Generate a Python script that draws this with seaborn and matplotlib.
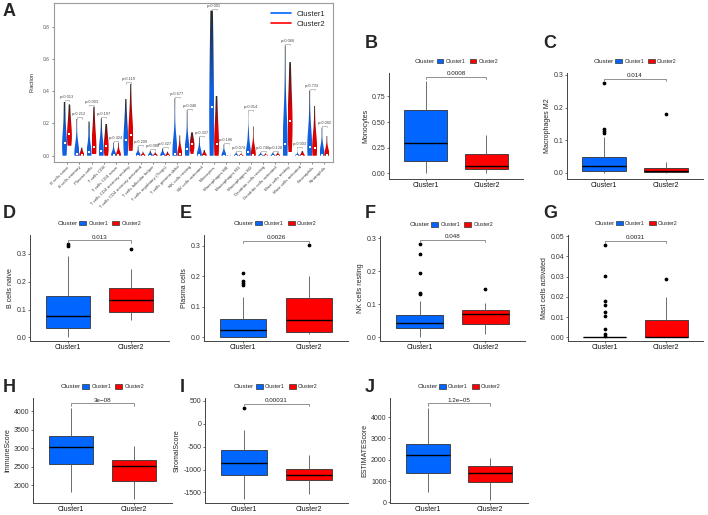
import numpy as np
import pandas as pd
import matplotlib
matplotlib.use("Agg")
import matplotlib.pyplot as plt
import seaborn as sns
from matplotlib.colors import LinearSegmentedColormap
from matplotlib.lines import Line2D
from matplotlib.patches import Patch

# ---------------- data ----------------
clusters = ["Cluster1", "Cluster2"]

# B: Monocytes
mono_c1 = [0.0, 0.06, 0.114, 0.2, 0.299, 0.45, 0.616, 0.75, 0.899]
mono_c2 = [0.0, 0.02, 0.039, 0.055, 0.071, 0.12, 0.185, 0.27, 0.37]
# C: Macrophages M2
m2_c1 = [0.0, 0.0, 0.001, 0.002, 0.003, 0.0035, 0.004, 0.007, 0.01, 0.013, 0.016, 0.019, 0.021,
         0.025, 0.029, 0.034, 0.039, 0.044, 0.049, 0.065, 0.111, 0.122, 0.128, 0.134, 0.275]
m2_c2 = [0.0, 0.0, 0.001, 0.003, 0.005, 0.009, 0.014, 0.032, 0.181]
# D: B cells naive
bn_c1 = [0.0, 0.008, 0.017, 0.025, 0.032, 0.045, 0.055, 0.066, 0.076, 0.09, 0.108, 0.128, 0.148,
         0.2, 0.293, 0.327, 0.334]
bn_c2 = [0.062, 0.08, 0.092, 0.115, 0.136, 0.155, 0.177, 0.246, 0.318]
# E: Plasma cells
pc_c1 = [0.0, 0.0, 0.0, 0.0, 0.0, 0.0005, 0.001, 0.004, 0.008, 0.012, 0.016, 0.02, 0.023,
         0.028, 0.034, 0.041, 0.048, 0.055, 0.061, 0.09, 0.131, 0.172, 0.18, 0.186, 0.212]
pc_c2 = [0.01, 0.014, 0.019, 0.035, 0.056, 0.09, 0.129, 0.2, 0.303]
# F: NK cells resting
nk_c1 = [0.0, 0.006, 0.012, 0.017, 0.021, 0.024, 0.027, 0.03, 0.033, 0.036, 0.039, 0.042, 0.044,
         0.047, 0.051, 0.055, 0.059, 0.063, 0.067, 0.11, 0.13, 0.134, 0.194, 0.252, 0.282]
nk_c2 = [0.011, 0.03, 0.042, 0.058, 0.07, 0.076, 0.082, 0.105, 0.145]
# G: Mast cells activated
mast_c1 = [0.0] * 21 + [0.0001, 0.0001, 0.0002, 0.0002, 0.0003, 0.0003, 0.0003,
                        0.0008, 0.0018, 0.0039, 0.0105, 0.0126, 0.0158, 0.0178, 0.0304, 0.0456]
mast_c2 = [0.0, 0.0, 0.0, 0.0, 0.0, 0.004, 0.0087, 0.0198, 0.0286]
# H, I, J: ESTIMATE scores
immune_c1 = [1814, 2300, 2575, 2820, 3027, 3180, 3336, 3700, 4106]
immune_c2 = [1637, 1900, 2115, 2350, 2513, 2600, 2673, 2850, 3053]
stromal_c1 = [-1651, -1350, -1129, -990, -857, -720, -579, -136, 342]
stromal_c2 = [-1543, -1380, -1237, -1170, -1115, -1050, -986, -850, -681]
estimate_c1 = [496, 950, 1395, 1800, 2233, 2500, 2744, 3500, 4450]
estimate_c2 = [124, 600, 961, 1200, 1395, 1550, 1690, 1900, 2093]

# A: all 22 CIBERSORT fractions
cells = ["B cells naive", "B cells memory", "Plasma cells", "T cells CD8", "T cells CD4 naive",
         "T cells CD4 memory resting", "T cells CD4 memory activated", "T cells follicular helper",
         "T cells regulatory (Tregs)", "T cells gamma delta", "NK cells resting", "NK cells activated",
         "Monocytes", "Macrophages M0", "Macrophages M1", "Macrophages M2", "Dendritic cells resting",
         "Dendritic cells activated", "Mast cells resting", "Mast cells activated", "Eosinophils",
         "Neutrophils"]
pvals_a = ["p=0.013", "p=0.212", "p=0.003", "p=0.197", "p=0.424", "p=0.119", "p=0.209", "p=0.080",
           "p=0.327", "p=0.677", "p=0.048", "p=0.337", "p=0.001", "p=0.186", "p=0.074", "p=0.014",
           "p=0.748", "p=0.128", "p=0.066", "p=0.003", "p=0.733", "p=0.092"]
frac_c1 = [bn_c1,
           [0, 0, 0.002, 0.005, 0.008, 0.015, 0.03, 0.06, 0.228],
           pc_c1,
           [0, 0.005, 0.012, 0.02, 0.031, 0.045, 0.07, 0.11, 0.232],
           [0, 0, 0, 0, 0.002, 0.005, 0.01, 0.02, 0.081],
           [0, 0.03, 0.05, 0.075, 0.097, 0.12, 0.16, 0.22, 0.352],
           [0, 0, 0, 0, 0, 0.002, 0.006, 0.015, 0.056],
           [0, 0, 0, 0, 0.001, 0.004, 0.008, 0.015, 0.03],
           [0, 0, 0, 0, 0.001, 0.004, 0.01, 0.02, 0.045],
           [0, 0, 0.003, 0.006, 0.01, 0.016, 0.03, 0.07, 0.356],
           nk_c1,
           [0, 0, 0, 0, 0.002, 0.006, 0.015, 0.035, 0.114],
           mono_c1,
           [0, 0, 0, 0, 0, 0.002, 0.006, 0.015, 0.07],
           [0, 0, 0, 0, 0, 0.001, 0.003, 0.008, 0.02],
           m2_c1,
           [0, 0, 0, 0, 0, 0.001, 0.003, 0.008, 0.02],
           [0, 0, 0, 0, 0, 0.001, 0.004, 0.009, 0.02],
           [0, 0.01, 0.03, 0.05, 0.072, 0.1, 0.15, 0.25, 0.683],
           mast_c1,
           [0, 0.01, 0.025, 0.04, 0.052, 0.07, 0.1, 0.16, 0.404],
           [0, 0, 0.001, 0.003, 0.005, 0.01, 0.02, 0.045, 0.174]]
frac_c2 = [bn_c2,
           [0, 0, 0.001, 0.003, 0.005, 0.01, 0.018, 0.03, 0.05],
           pc_c2,
           [0, 0.015, 0.03, 0.045, 0.06, 0.08, 0.1, 0.14, 0.197],
           [0, 0, 0, 0, 0.003, 0.006, 0.012, 0.025, 0.081],
           [0.03, 0.07, 0.09, 0.11, 0.128, 0.15, 0.19, 0.27, 0.445],
           [0, 0, 0, 0, 0, 0.001, 0.004, 0.01, 0.025],
           [0, 0, 0, 0, 0.001, 0.003, 0.006, 0.01, 0.02],
           [0, 0, 0, 0, 0, 0.002, 0.005, 0.012, 0.025],
           [0, 0, 0.002, 0.005, 0.009, 0.015, 0.028, 0.05, 0.126],
           nk_c2,
           [0, 0, 0, 0, 0.001, 0.004, 0.01, 0.02, 0.035],
           mono_c2,
           [0, 0, 0, 0, 0, 0, 0.001, 0.003, 0.006],
           [0, 0, 0, 0, 0, 0.001, 0.002, 0.005, 0.015],
           m2_c2,
           [0, 0, 0, 0, 0, 0.001, 0.002, 0.005, 0.015],
           [0, 0, 0, 0, 0, 0.001, 0.004, 0.009, 0.02],
           [0.02, 0.08, 0.13, 0.17, 0.217, 0.26, 0.32, 0.42, 0.58],
           mast_c2,
           [0, 0.01, 0.022, 0.035, 0.046, 0.065, 0.095, 0.15, 0.308],
           [0, 0, 0.001, 0.003, 0.005, 0.01, 0.02, 0.04, 0.122]]

# ---------------- style ----------------
sns.set_theme(style="ticks")
plt.rcParams["font.family"] = ["Liberation Sans", "DejaVu Sans"]
plt.rcParams["axes.unicode_minus"] = False

box_pal = {"Cluster1": "#0066FF", "Cluster2": "#FF0000"}
violin_pal = {"Cluster1": "#1160E0", "Cluster2": "#DD0000"}

W, H = 708, 515
fig = plt.figure(figsize=(W / 100, H / 100), dpi=100)


def px_axes(left, right, top, bottom):
    return fig.add_axes([left / W, 1 - bottom / H, (right - left) / W, (bottom - top) / H])


def letter(x, y, s):
    fig.text(x / W, 1 - y / H, s, fontsize=13, fontweight="bold", ha="left", va="center")


# ---------------- panel A: violins ----------------
rows = []
for cell, v1, v2 in zip(cells, frac_c1, frac_c2):
    rows += [(cell, "Cluster1", v) for v in v1]
    rows += [(cell, "Cluster2", v) for v in v2]
df_a = pd.DataFrame(rows, columns=["cell", "cluster", "value"])

axA = px_axes(54, 333, 3, 161.7)
sns.violinplot(data=df_a, x="cell", y="value", hue="cluster", order=cells, hue_order=clusters,
               palette=violin_pal, saturation=1, cut=0, inner=None, density_norm="width",
               width=0.8, bw_adjust=1.3, linewidth=0, legend=False, ax=axA)

# gradient fill: cluster colour at the bottom, darkening to the top
grad = np.linspace(0, 1, 200).reshape(-1, 1)
for coll in list(axA.collections):
    fc = coll.get_facecolor()[0][:3]
    path = coll.get_paths()[0]
    ext = path.get_extents()
    cmap = LinearSegmentedColormap.from_list("g", [(0, fc), (0.45, fc), (1, (0.15, 0.15, 0.15))])
    im = axA.imshow(grad, cmap=cmap, origin="lower", aspect="auto", interpolation="bilinear",
                    extent=[ext.x0, ext.x1, ext.y0, max(ext.y1, ext.y0 + 1e-4)], zorder=2)
    im.set_clip_path(path, transform=axA.transData)
    coll.set_visible(False)

med = df_a.groupby(["cell", "cluster"])["value"].median()
top = df_a.groupby(["cell", "cluster"])["value"].max()
off = 0.8 / 4
for i, cell in enumerate(cells):
    for j, cl in enumerate(clusters):
        axA.scatter(i + (2 * j - 1) * off, med[(cell, cl)], marker="s", s=2.5, color="white",
                    linewidths=0, zorder=5)
    yb = max(top[(cell, c)] for c in clusters) + 0.01
    axA.plot([i - off, i - off, i + off, i + off], [yb - 0.008, yb, yb, yb - 0.008],
             color="#909090", lw=0.4, zorder=4)
    axA.text(i, yb + 0.005, pvals_a[i], ha="center", va="bottom", fontsize=2.8, color="#444444")

axA.set_xlim(-1.06, 21.7)
axA.set_ylim(-0.037, 0.946)
axA.set_yticks([0.0, 0.2, 0.4, 0.6, 0.8])
axA.set_yticklabels(["0.0", "0.2", "0.4", "0.6", "0.8"])
axA.tick_params(axis="y", labelsize=3.5, labelcolor="#555555", length=1.5, width=0.4, pad=1.5)
axA.tick_params(axis="x", labelsize=3.2, labelcolor="#444444", length=1.5, width=0.4, pad=1)
plt.setp(axA.get_xticklabels(), rotation=45, ha="right", rotation_mode="anchor")
axA.set_xlabel("")
axA.set_ylabel("Fraction", fontsize=4, labelpad=6)
for sp in axA.spines.values():
    sp.set_visible(True)
    sp.set_color("#9a9a9a")
    sp.set_linewidth(0.8)
axA.legend(handles=[Line2D([], [], color=box_pal[c], lw=1.2) for c in clusters], labels=clusters,
           loc="upper right", frameon=False, fontsize=5.5, handlelength=2.6, borderaxespad=0.6,
           labelspacing=0.3)
letter(3, 12, "A")


# ---------------- box panels ----------------
def box_panel(rect, c1, c2, ylabel, pval, ylim, yticks, ylabels, let, let_xy):
    ax = px_axes(*rect)
    df = pd.DataFrame({"Cluster": ["Cluster1"] * len(c1) + ["Cluster2"] * len(c2),
                       "value": list(c1) + list(c2)})
    sns.boxplot(data=df, x="Cluster", y="value", hue="Cluster", order=clusters, hue_order=clusters,
                palette=box_pal, saturation=1, width=0.7, linecolor="#333333", linewidth=0.6,
                showcaps=False,
                medianprops=dict(color="black", linewidth=1.0),
                whiskerprops=dict(color="#555555", linewidth=0.6),
                flierprops=dict(marker="o", markerfacecolor="black", markeredgecolor="black",
                                markersize=1.7),
                legend=False, ax=ax)
    hi = max(max(c1), max(c2))
    rng = hi - min(min(c1), min(c2))
    yb = hi + 0.045 * rng
    ax.plot([0, 0, 1, 1], [yb - 0.025 * rng, yb, yb, yb - 0.025 * rng], color="#666666", lw=0.5)
    ax.text(0.5, yb + 0.008 * rng, pval, ha="center", va="bottom", fontsize=4.5, color="#222222")
    ax.set_xlim(-0.6, 1.6)
    ax.set_ylim(*ylim)
    ax.set_yticks(yticks)
    ax.set_yticklabels(ylabels)
    ax.set_xlabel("")
    ax.set_ylabel(ylabel, fontsize=5, labelpad=2)
    ax.tick_params(axis="both", length=1.5, width=0.5, pad=1, color="#333333")
    ax.tick_params(axis="y", labelsize=5, labelcolor="#333333")
    ax.tick_params(axis="x", labelsize=5, labelcolor="#111111", pad=0.8)
    sns.despine(ax=ax)
    for s in ("left", "bottom"):
        ax.spines[s].set_color("#444444")
        ax.spines[s].set_linewidth(0.7)
    handles = [Patch(facecolor=box_pal[c], edgecolor="#333333", linewidth=0.5) for c in clusters]
    ax.legend(handles, clusters, loc="center left", bbox_to_anchor=(0.355, 1.108), ncol=2,
              frameon=False, fontsize=3.8, handlelength=1.3, handleheight=0.9, handletextpad=0.4,
              columnspacing=0.8, borderaxespad=0, borderpad=0)
    ax.text(0.345, 1.108, "Cluster", transform=ax.transAxes, ha="right", va="center", fontsize=4.6)
    letter(*let_xy, let)
    return ax


box_panel((389, 523, 73, 179), mono_c1, mono_c2, "Monocytes", "0.0008", (-0.058, 0.98),
          [0, 0.25, 0.5, 0.75], ["0.00", "0.25", "0.50", "0.75"], "B", (365, 43))
box_panel((567, 703, 73, 179), m2_c1, m2_c2, "Macrophages M2", "0.014", (-0.019, 0.306),
          [0, 0.1, 0.2, 0.3], ["0.0", "0.1", "0.2", "0.3"], "C", (543, 43))
box_panel((30, 169, 235, 341), bn_c1, bn_c2, "B cells naive", "0.013", (-0.013, 0.368),
          [0, 0.1, 0.2, 0.3], ["0.0", "0.1", "0.2", "0.3"], "D", (3, 213))
box_panel((204, 348, 235, 341), pc_c1, pc_c2, "Plasma cells", "0.0026", (-0.012, 0.336),
          [0, 0.1, 0.2, 0.3], ["0.0", "0.1", "0.2", "0.3"], "E", (180, 213))
box_panel((380, 525, 236, 341), nk_c1, nk_c2, "NK cells resting", "0.048", (-0.011, 0.307),
          [0, 0.1, 0.2, 0.3], ["0.0", "0.1", "0.2", "0.3"], "F", (365, 213))
box_panel((568, 703, 235, 341), mast_c1, mast_c2, "Mast cells activated", "0.0031", (-0.0018, 0.0505),
          [0, 0.01, 0.02, 0.03, 0.04, 0.05], ["0.00", "0.01", "0.02", "0.03", "0.04", "0.05"],
          "G", (543, 213))
box_panel((33, 172, 398, 503), immune_c1, immune_c2, "ImmuneScore", "3e\u221208", (1520, 4364),
          [2000, 2500, 3000, 3500, 4000], ["2000", "2500", "3000", "3500", "4000"], "H", (3, 388))
box_panel((205, 348, 398, 503), stromal_c1, stromal_c2, "StromalScore", "0.00031", (-1730, 564),
          [-1500, -1000, -500, 0, 500], ["-1500", "-1000", "-500", "0", "500"], "I", (180, 388))
box_panel((390, 528, 398, 503), estimate_c1, estimate_c2, "ESTIMATEScore", "1.2e\u221205", (-33, 4898),
          [0, 1000, 2000, 3000, 4000], ["0", "1000", "2000", "3000", "4000"], "J", (365, 388))

fig.savefig("out.png", dpi=100)
